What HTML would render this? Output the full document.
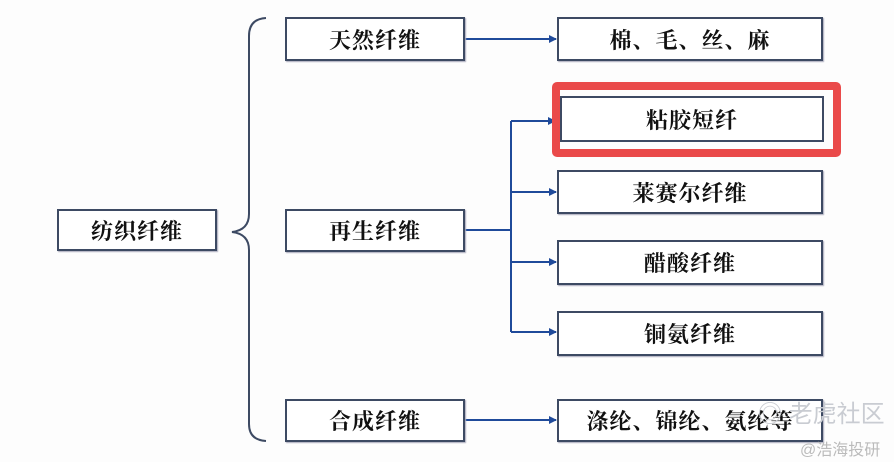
<!DOCTYPE html>
<html><head><meta charset="utf-8"><style>
body{margin:0;width:894px;height:462px;background:#fdfdfd;overflow:hidden;position:relative;font-family:"Liberation Serif","Noto Serif CJK SC","Noto Sans CJK SC",serif;}
.b{position:absolute;border:2px solid #3d4a63;box-sizing:border-box;background:#fff;display:flex;align-items:center;justify-content:center;font-size:22px;font-weight:bold;color:#111;letter-spacing:1px;box-shadow:1px 1px 1px #aab;}
.wm{position:absolute;color:#c9ccd2;font-family:"Liberation Sans","Noto Sans CJK SC",sans-serif;}
</style></head><body>
<svg width="894" height="462" style="position:absolute;left:0;top:0">
<defs><marker id="a" markerWidth="8" markerHeight="8" refX="7" refY="4" orient="auto" markerUnits="userSpaceOnUse"><path d="M0,0 L8,4 L0,8z" fill="#1f4a9a"/></marker></defs>
<g stroke="#3d4a63" stroke-width="2" fill="none">
<path d="M266,18 Q249,19 249,36 L249,214 Q249,230 232,232 Q249,234 249,250 L249,424 Q249,440 266,441"/>
</g>
<g stroke="#1f4a9a" stroke-width="2" fill="none">
<line x1="464" y1="39" x2="556" y2="39" marker-end="url(#a)"/>
<line x1="464" y1="230" x2="511" y2="230"/>
<line x1="511" y1="121" x2="511" y2="332"/>
<line x1="511" y1="121" x2="555" y2="121" marker-end="url(#a)"/>
<line x1="511" y1="192" x2="556" y2="192" marker-end="url(#a)"/>
<line x1="511" y1="262" x2="556" y2="262" marker-end="url(#a)"/>
<line x1="511" y1="332" x2="556" y2="332" marker-end="url(#a)"/>
<line x1="464" y1="420" x2="556" y2="420" marker-end="url(#a)"/>
</g>
</svg>
<div class="b" style="left:57px;top:209px;width:160px;height:42px">纺织纤维</div>
<div class="b" style="left:285px;top:17px;width:180px;height:44px">天然纤维</div>
<div class="b" style="left:285px;top:209px;width:180px;height:43px">再生纤维</div>
<div class="b" style="left:285px;top:399px;width:180px;height:43px">合成纤维</div>
<div class="b" style="left:557px;top:17px;width:266px;height:44px">棉、毛、丝、麻</div>
<div style="position:absolute;left:552px;top:82px;width:289px;height:75px;box-sizing:border-box;border:8px solid #ea4a4a;border-radius:5px"></div>
<div class="b" style="left:560px;top:96px;width:264px;height:46px;box-shadow:none">粘胶短纤</div>
<div class="b" style="left:557px;top:170px;width:266px;height:44px">莱赛尔纤维</div>
<div class="b" style="left:557px;top:240px;width:266px;height:45px">醋酸纤维</div>
<div class="b" style="left:557px;top:311px;width:266px;height:45px">铜氨纤维</div>
<div class="b" style="left:557px;top:399px;width:266px;height:43px">涤纶、锦纶、氨纶等</div>
<div class="wm" style="left:758px;top:394px;font-size:24px">◎ 老虎社区</div>
<div class="wm" style="left:800px;top:436px;font-size:16px;color:#bbb">@浩海投研</div>
</body></html>
